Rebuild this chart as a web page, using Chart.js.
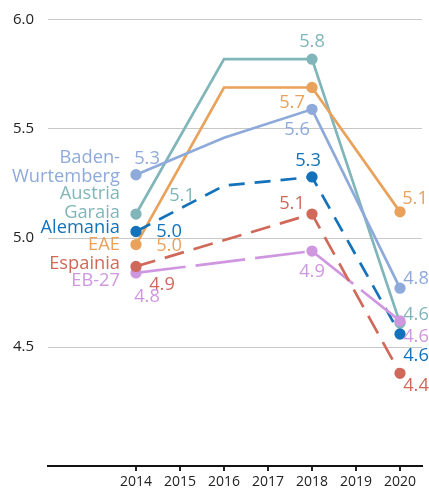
<!DOCTYPE html>
<html>
<head>
    <title>Ikerketa gastua</title>
    <script src="https://cdn.jsdelivr.net/npm/chart.js"></script>
    <style>
        body {
            margin: 0;
            padding: 0;
            background: #ffffff;
        }
        canvas {
            display: block;
        }
    </style>
</head>
<body>
<canvas id="lineChart" width="429" height="492"></canvas>

<script>
    // Data
    const years = [2014, 2016, 2018, 2020];
    const austriaValues = [5.11, 5.82, 5.82, 4.61];
    const eaeValues = [4.97, 5.69, 5.69, 5.12];
    const badenValues = [5.29, 5.46, 5.59, 4.77];
    const alemaniaValues = [5.03, 5.24, 5.28, 4.56];
    const espainiaValues = [4.87, null, 5.11, 4.38];
    const eb27Values = [4.84, null, 4.94, 4.62];
    const xTickYears = [2014, 2015, 2016, 2017, 2018, 2019, 2020];
    const yTickValues = [4.5, 5.0, 5.5, 6.0];
    const markedYears = [2014, 2018, 2020];

    const FONT = "'Open Sans', sans-serif";

    // Series styling and where the labels sit relative to their points
    const series = [
        { name: ['Espainia'], values: espainiaValues, color: '#d0695a', dash: [20, 10],
          nameOffset: 3, valueOffsets: [[26, 24], [-20, -5], [16, 18]] },
        { name: ['EB-27'], values: eb27Values, color: '#cf97e0', dash: [50, 10],
          nameOffset: 13, valueOffsets: [[11, 29], [0, 26], [16, 21]] },
        { name: ['Alemania'], values: alemaniaValues, color: '#1372b9', dash: [16, 10],
          nameOffset: 2, valueOffsets: [[33, 6], [-4, -11], [16, 27]] },
        { name: ['Baden-', 'Wurtemberg'], values: badenValues, color: '#8eaadb', dash: [],
          nameOffset: 7, valueOffsets: [[11, -11], [-15, 26], [16, -4]] },
        { name: ['EAE'], values: eaeValues, color: '#e9a25c', dash: [],
          nameOffset: 5, valueOffsets: [[33, 6], [-20, 21], [15, -8]] },
        { name: ['Austria', 'Garaia'], values: austriaValues, color: '#80b6b9', dash: [],
          nameOffset: 4, valueOffsets: [[46, -13], [0, -12], [16, -3]] }
    ];

    const datasets = series.map(s => ({
        label: s.name.join(' '),
        data: years.map((y, i) => ({ x: y, y: s.values[i] })).filter(p => p.y !== null),
        borderColor: s.color,
        backgroundColor: s.color,
        borderWidth: 2.7,
        borderDash: s.dash,
        pointRadius: ctx => markedYears.includes(ctx.raw.x) ? 4.3 : 0,
        pointHoverRadius: 4,
        tension: 0
    }));

    // Draws the series names at the left and the values next to the points
    const labelPlugin = {
        id: 'labels',
        afterDatasetsDraw(chart) {
            const ctx = chart.ctx;
            ctx.save();
            series.forEach((s, di) => {
                const meta = chart.getDatasetMeta(di);
                const pts = meta.data;
                const raw = chart.data.datasets[di].data;
                ctx.fillStyle = s.color;
                ctx.font = '18.3px ' + FONT;
                ctx.textBaseline = 'alphabetic';

                // series name
                ctx.textAlign = 'right';
                const first = pts[0];
                const lineH = 18.7;
                s.name.forEach((line, li) => {
                    const y = first.y + s.nameOffset - (s.name.length - 1 - li) * lineH;
                    ctx.fillText(line, 120, y);
                });

                // values
                ctx.textAlign = 'center';
                let k = 0;
                raw.forEach((p, i) => {
                    if (!markedYears.includes(p.x)) return;
                    const off = s.valueOffsets[k++];
                    ctx.fillText(p.y.toFixed(1), pts[i].x + off[0], pts[i].y + off[1]);
                });
            });
            ctx.restore();
        }
    };

    new Chart(document.getElementById('lineChart'), {
        type: 'line',
        data: { datasets: datasets },
        options: {
            responsive: false,
            animation: false,
            devicePixelRatio: 1,
            layout: { padding: { top: 0, right: 7, left: 0, bottom: 0 } },
            plugins: {
                legend: { display: false },
                tooltip: { enabled: false }
            },
            scales: {
                x: {
                    type: 'linear',
                    min: 2012,
                    max: 2020.5,
                    afterBuildTicks: scale => { scale.ticks = xTickYears.map(v => ({ value: v })); },
                    afterFit: scale => { scale.height = 26; scale.paddingLeft = 0; scale.paddingRight = 0; },
                    grid: { drawOnChartArea: false, drawTicks: true, tickLength: 5, color: '#222', lineWidth: 2 },
                    border: { display: true, color: '#111', width: 2 },
                    ticks: {
                        color: '#222',
                        padding: 3,
                        font: { family: FONT, size: 14 },
                        callback: v => String(v),
                        maxRotation: 0,
                        autoSkip: false
                    }
                },
                y: {
                    type: 'linear',
                    min: 3.955,
                    max: 6.059,
                    afterBuildTicks: scale => { scale.ticks = yTickValues.map(v => ({ value: v })); },
                    afterFit: scale => { scale.width = 48; scale.paddingTop = 0; scale.paddingBottom = 0; },
                    grid: { color: '#c8c8c8', lineWidth: 1, drawTicks: false },
                    border: { display: false },
                    ticks: {
                        color: '#222',
                        padding: 14,
                        font: { family: FONT, size: 15 },
                        callback: v => v.toFixed(1)
                    }
                }
            }
        },
        plugins: [labelPlugin]
    });
</script>
</body>
</html>
